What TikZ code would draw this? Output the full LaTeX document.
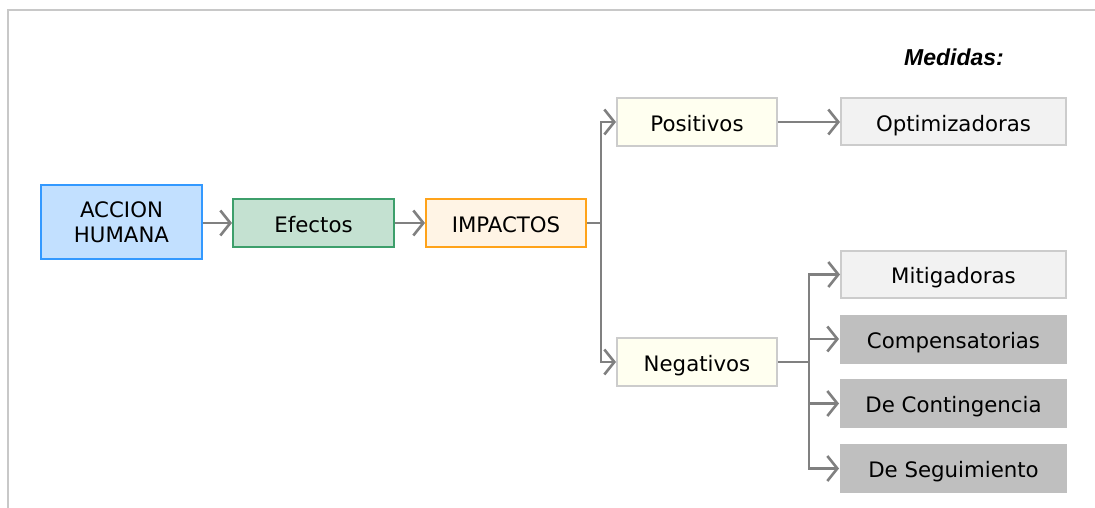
\documentclass[tikz,border=0pt]{standalone}
\usepackage{fontspec}
\setmainfont{DejaVu Sans}
\newfontfamily\arialfont{Liberation Sans}
\usetikzlibrary{arrows.meta}
\definecolor{linegray}{HTML}{808080}
\definecolor{framegray}{HTML}{C8C8C8}
\definecolor{accfill}{HTML}{C2E0FF}
\definecolor{accdraw}{HTML}{3399FF}
\definecolor{effill}{HTML}{C4E1D1}
\definecolor{efdraw}{HTML}{3D9F6B}
\definecolor{imfill}{HTML}{FFF4E5}
\definecolor{imdraw}{HTML}{FFA31A}
\definecolor{pnfill}{HTML}{FFFFF0}
\definecolor{boxgray}{HTML}{CCCCCC}
\definecolor{lightfill}{HTML}{F2F2F2}
\definecolor{darkfill}{HTML}{BFBFBF}
\tikzset{
  basebox/.style={rectangle, inner sep=0pt, line width=2pt, align=center,
    font=\fontsize{21.3}{25}\selectfont, text=black},
  onel/.style={text height=19.5pt, text depth=1pt},
  accbox/.style={basebox, fill=accfill, draw=accdraw, minimum width=161pt, minimum height=74pt},
  efbox/.style={basebox, onel, fill=effill, draw=efdraw, minimum width=161pt, minimum height=48pt},
  imbox/.style={basebox, onel, fill=imfill, draw=imdraw, minimum width=160pt, minimum height=48pt},
  pnbox/.style={basebox, onel, fill=pnfill, draw=boxgray, minimum width=160pt, minimum height=48pt},
  lightbox/.style={basebox, onel, fill=lightfill, draw=boxgray, minimum width=225pt, minimum height=47pt},
  darkbox/.style={basebox, onel, fill=darkfill, draw=none, minimum width=227pt, minimum height=49pt},
  conn/.style={draw=linegray, line width=2.3pt},
  arr/.style={conn, -{Straight Barb[length=10pt,width=25pt,line width=2.6pt]}},
  frameline/.style={draw=framegray, line width=2pt}
}
\begin{document}
\begin{tikzpicture}[x=1pt,y=-1pt]
\useasboundingbox (0,0) rectangle (1095,508);
\draw[frameline] (8,508) -- (8,10) -- (1095,10);

\node[font=\arialfont\bfseries\itshape\fontsize{23}{27}\selectfont] (med) at (954,57) {Medidas:};

\node[accbox] (acc) at (121.5,222) {ACCION\\HUMANA};
\node[efbox] (ef) at (313.5,223) {Efectos};
\node[imbox] (imp) at (506,223) {IMPACTOS};
\node[pnbox] (pos) at (697,122) {Positivos};
\node[pnbox] (neg) at (697,362) {Negativos};
\node[lightbox] (opt) at (953.5,122) {Optimizadoras};
\node[lightbox] (mit) at (953.5,274.5) {Mitigadoras};
\node[darkbox] (com) at (953.5,339) {Compensatorias};
\node[darkbox] (con) at (953.5,403.5) {De Contingencia};
\node[darkbox] (seg) at (953.5,468.5) {De Seguimiento};

\draw[arr] (acc.east |- ef.west) -- (ef.west);
\draw[arr] (ef.east) -- (imp.west);

\coordinate (j1) at (601,223);
\draw[conn] (imp.east) -- (j1);
\draw[arr] (j1) |- (pos.west);
\draw[arr] (j1) |- (neg.west);

\draw[arr] (pos.east) -- (opt.west);

\coordinate (j2) at (809,362);
\draw[conn] (neg.east) -- (j2);
\draw[arr] (j2) |- (mit.west);
\draw[arr] (j2 |- com.west) -- (com.west);
\draw[arr] (j2 |- con.west) -- (con.west);
\draw[arr] (j2) |- (seg.west);
\end{tikzpicture}
\end{document}
